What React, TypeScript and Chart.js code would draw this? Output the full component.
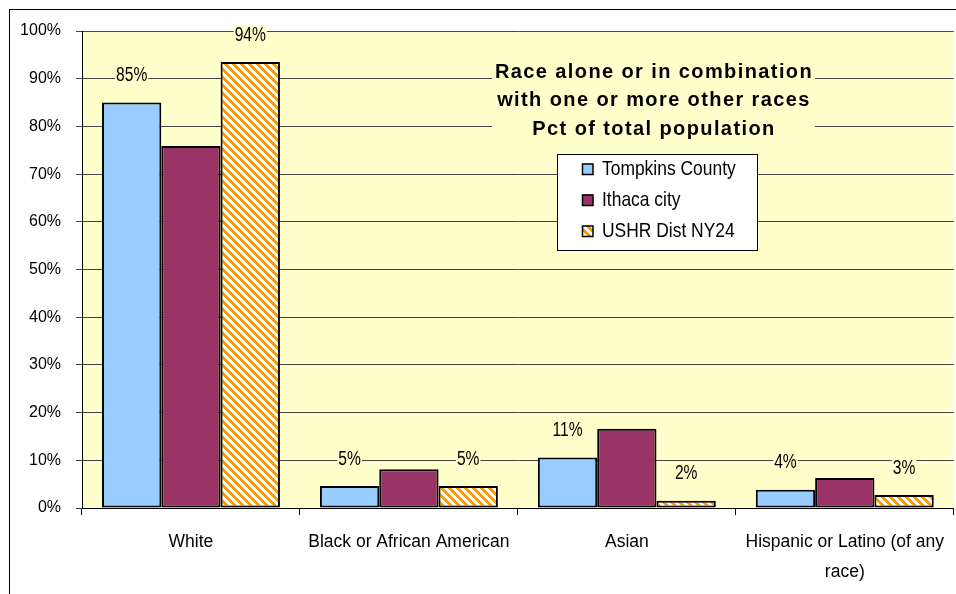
import React, { useEffect, useRef } from 'react';
import { Chart, registerables } from 'chart.js';

Chart.register(...registerables);

// Categories and series (percent of total population)
const categories: (string | string[])[] = [
  'White',
  'Black or African American',
  'Asian',
  ['Hispanic or Latino (of any', 'race)'],
];
const seriesNames = ['Tompkins County', 'Ithaca city', 'USHR Dist NY24'];
const tompkinsCounty = [85.0, 4.6, 10.6, 3.8];
const ithacaCity = [75.9, 8.1, 16.6, 6.3];
const ushrDistNY24 = [93.5, 4.6, 1.5, 2.7];
const labelledSeries = [0, 2];
const titleLines = [
  'Race alone or in combination',
  'with one or more other races',
  'Pct of total population',
];

const BLUE = '#99CCFF';
const MAROON = '#993366';
const ORANGE = '#FF9900';
const PLOT_BG = '#FFFFCC';
const FONT = "'Liberation Sans', Arial, sans-serif";

function makeHatch(): CanvasPattern | string {
  const c = document.createElement('canvas');
  c.width = 8;
  c.height = 8;
  const g = c.getContext('2d');
  if (!g) return ORANGE;
  g.fillStyle = '#ffffff';
  g.fillRect(0, 0, 8, 8);
  g.fillStyle = ORANGE;
  for (let y = 0; y < 8; y++) {
    for (let k = 0; k < 4; k++) {
      g.fillRect((y + k) % 8, y, 1, 1);
    }
  }
  const p = g.createPattern(c, 'repeat');
  return p || ORANGE;
}

// Draws text horizontally condensed by factor sx, anchored per current textAlign
function condensedText(ctx: CanvasRenderingContext2D, text: string, x: number, y: number, sx: number) {
  ctx.save();
  ctx.translate(x, y);
  ctx.scale(sx, 1);
  ctx.fillText(text, 0, 0);
  ctx.restore();
}

export default function App() {
  const ref = useRef<HTMLCanvasElement | null>(null);

  useEffect(() => {
    const canvas = ref.current;
    if (!canvas) return;
    const hatch = makeHatch();
    const fills = [BLUE, MAROON, hatch];

    const decor = {
      id: 'decor',
      beforeDraw(chart: any) {
        const { ctx, chartArea: a } = chart;
        ctx.save();
        ctx.fillStyle = '#ffffff';
        ctx.fillRect(0, 0, chart.width, chart.height);
        ctx.fillStyle = PLOT_BG;
        ctx.fillRect(a.left, a.top, a.right - a.left, a.bottom - a.top);
        ctx.strokeStyle = '#000';
        ctx.lineWidth = 1;
        ctx.strokeRect(9.5, 9.5, chart.width + 40, chart.height + 40);
        ctx.restore();
      },
      afterDatasetsDraw(chart: any) {
        const { ctx } = chart;
        ctx.save();
        ctx.font = `20px ${FONT}`;
        ctx.textAlign = 'center';
        ctx.textBaseline = 'middle';
        const sx = 0.78;
        labelledSeries.forEach((di) => {
          const meta = chart.getDatasetMeta(di);
          const values = chart.data.datasets[di].data as number[];
          meta.data.forEach((el: any, i: number) => {
            const text = `${Math.round(values[i])}%`;
            const w = ctx.measureText(text).width * sx;
            const x = el.x;
            const y = el.y - 27;
            ctx.fillStyle = PLOT_BG;
            ctx.fillRect(x - w / 2 - 1, y - 10, w + 2, 20);
            ctx.fillStyle = '#000';
            condensedText(ctx, text, x, y, sx);
          });
        });
        ctx.restore();
      },
      afterDraw(chart: any) {
        const { ctx } = chart;
        ctx.save();
        // title block
        ctx.fillStyle = PLOT_BG;
        ctx.fillRect(492, 57, 323, 86);
        ctx.fillStyle = '#000';
        ctx.font = `bold 20px ${FONT}`;
        (ctx as any).letterSpacing = '1.4px';
        ctx.textAlign = 'center';
        ctx.textBaseline = 'middle';
        titleLines.forEach((line, i) => {
          ctx.fillText(line, 654, 72 + i * 28.5);
        });
        (ctx as any).letterSpacing = '0px';

        // legend
        const lx = 557;
        const ly = 154;
        ctx.fillStyle = '#ffffff';
        ctx.fillRect(lx, ly, 200, 96);
        ctx.strokeStyle = '#000';
        ctx.lineWidth = 1;
        ctx.strokeRect(lx + 0.5, ly + 0.5, 200, 96);
        ctx.font = `21px ${FONT}`;
        ctx.textAlign = 'left';
        ctx.textBaseline = 'middle';
        seriesNames.forEach((name, i) => {
          const cy = 169 + i * 31;
          ctx.fillStyle = fills[i] as any;
          ctx.fillRect(582, cy - 5.5, 11, 11);
          ctx.strokeStyle = '#000';
          ctx.lineWidth = 1.5;
          ctx.strokeRect(582.5, cy - 5, 10.5, 10.5);
          ctx.fillStyle = '#000';
          condensedText(ctx, name, 602, cy, 0.83);
        });
        ctx.restore();
      },
    };

    const chart = new Chart(canvas, {
      type: 'bar',
      data: {
        labels: categories,
        datasets: [
          { label: seriesNames[0], data: tompkinsCounty, backgroundColor: BLUE },
          { label: seriesNames[1], data: ithacaCity, backgroundColor: MAROON },
          { label: seriesNames[2], data: ushrDistNY24, backgroundColor: hatch as any },
        ].map((d) => ({
          ...d,
          borderColor: '#000',
          borderWidth: 2,
          borderSkipped: false,
          barPercentage: 1,
          categoryPercentage: 0.8165,
        })),
      },
      options: {
        animation: false,
        responsive: false,
        devicePixelRatio: 1,
        layout: { padding: { top: 31, left: 0, right: 0, bottom: 0 } },
        plugins: {
          legend: { display: false },
          title: { display: false },
          tooltip: { enabled: false },
        },
        scales: {
          x: {
            type: 'category',
            offset: true,
            grid: {
              offset: true,
              drawOnChartArea: false,
              tickLength: 7,
              color: '#000',
            },
            border: { display: true, color: '#000', width: 1 },
            ticks: {
              maxRotation: 0,
              minRotation: 0,
              autoSkip: false,
              padding: 12,
              color: '#000',
              font: { family: FONT, size: 17.5, lineHeight: '30px' as any },
            },
            afterFit(scale: any) {
              scale.height = 86;
            },
          },
          y: {
            min: 0,
            max: 100,
            ticks: {
              stepSize: 10,
              padding: 15,
              color: '#000',
              font: { family: FONT, size: 16 },
              callback: (v: any) => `${v}%`,
            },
            grid: { color: '#444', tickLength: 6, lineWidth: 1 },
            border: { display: true, color: '#000', width: 1 },
            afterFit(scale: any) {
              scale.width = 82;
            },
          },
        },
      },
      plugins: [decor],
    });

    return () => chart.destroy();
  }, []);

  return (
    <div style={{ position: 'absolute', left: 0, top: 0, width: 956, height: 594 }}>
      <canvas ref={ref} width={956} height={594} style={{ display: 'block' }} />
    </div>
  );
}
